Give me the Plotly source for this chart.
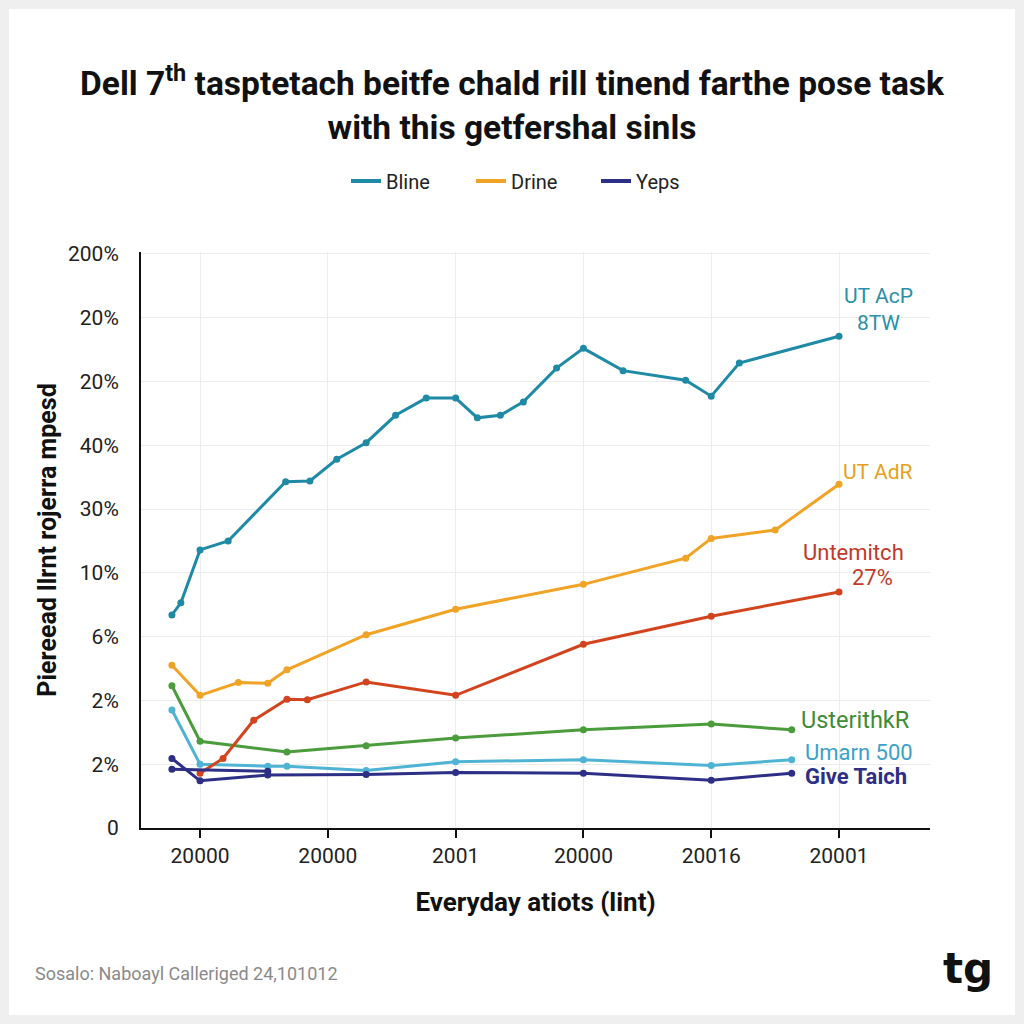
import plotly.graph_objects as go

# ---- data (axis units: x = tick index, y = gridline index) ----
x_tick_labels = ["20000", "20000", "2001", "20000", "20016", "20001"]
y_tick_labels = ["0", "2%", "2%", "6%", "10%", "30%", "40%", "20%", "20%", "200%"]

bline_x = [-0.22, -0.15, 0.0, 0.22, 0.67, 0.86, 1.07, 1.30, 1.53, 1.77, 2.0, 2.17, 2.35, 2.53, 2.79, 3.0, 3.31, 3.80, 4.0, 4.22, 5.0]
bline_y = [3.34, 3.53, 4.36, 4.50, 5.43, 5.44, 5.78, 6.04, 6.47, 6.74, 6.74, 6.43, 6.47, 6.68, 7.21, 7.52, 7.17, 7.02, 6.77, 7.29, 7.71]

drine_x = [-0.22, 0.0, 0.30, 0.53, 0.68, 1.30, 2.0, 3.0, 3.80, 4.0, 4.50, 5.0]
drine_y = [2.55, 2.08, 2.28, 2.27, 2.48, 3.03, 3.43, 3.82, 4.23, 4.54, 4.67, 5.39]

untemitch_x = [0.0, 0.18, 0.42, 0.68, 0.84, 1.30, 2.0, 3.0, 4.0, 5.0]
untemitch_y = [0.86, 1.09, 1.69, 2.02, 2.01, 2.29, 2.08, 2.88, 3.32, 3.70]

usterith_x = [-0.22, 0.0, 0.68, 1.30, 2.0, 3.0, 4.0, 4.63]
usterith_y = [2.23, 1.36, 1.19, 1.29, 1.41, 1.54, 1.63, 1.54]

umarn_x = [-0.22, 0.0, 0.53, 0.68, 1.30, 2.0, 3.0, 4.0, 4.63]
umarn_y = [1.85, 1.00, 0.97, 0.97, 0.90, 1.04, 1.07, 0.98, 1.07]

yeps_x = [-0.22, 0.0, 0.53, 1.30, 2.0, 3.0, 4.0, 4.63]
yeps_y = [1.09, 0.74, 0.83, 0.84, 0.87, 0.86, 0.75, 0.86]

yeps2_x = [-0.22, 0.53]
yeps2_y = [0.92, 0.89]

C_BLUE = "#1f8aa6"
C_ORANGE = "#f0a324"
C_RED = "#d2441e"
C_GREEN = "#4b9c3c"
C_LBLUE = "#4fb3d4"
C_NAVY = "#2c2f85"

fig = go.Figure()

def add(x, y, color, name):
    fig.add_trace(go.Scatter(
        x=x, y=y, mode="lines+markers", name=name, showlegend=False,
        line=dict(color=color, width=3),
        marker=dict(color=color, size=7),
    ))

add(umarn_x, umarn_y, C_LBLUE, "Umarn 500")
add(usterith_x, usterith_y, C_GREEN, "UsterithkR")
add(untemitch_x, untemitch_y, C_RED, "Untemitch")
add(yeps2_x, yeps2_y, C_NAVY, "Yeps")
add(bline_x, bline_y, C_BLUE, "Bline")
add(drine_x, drine_y, C_ORANGE, "Drine")
add(yeps_x, yeps_y, C_NAVY, "Yeps")

# legend entries (line-only swatches, as in the reference)
for nm, col in [("Bline", C_BLUE), ("Drine", C_ORANGE), ("Yeps", C_NAVY)]:
    fig.add_trace(go.Scatter(x=[None], y=[None], mode="lines", name=nm,
                             line=dict(color=col, width=4), showlegend=True))

FONT = "Roboto, Arial, sans-serif"

annos = [
    dict(text="UT AcP<br>8TW", x=5.31, y=8.13, color="#2a8fa8", xanchor="center", size=21),
    dict(text="UT AdR", x=5.30, y=5.58, color="#e6a020", xanchor="center", size=21),
    dict(text="Untemitch", x=5.11, y=4.32, color="#c0392b", xanchor="center", size=22),
    dict(text="27%", x=5.26, y=3.93, color="#c0392b", xanchor="center", size=22),
    dict(text="UsterithkR", x=4.69, y=1.69, color="#3f8c36", xanchor="left", size=23.5),
    dict(text="Umarn 500", x=4.72, y=1.18, color="#3aa2c8", xanchor="left", size=22),
    dict(text="<b>Give Taich</b>", x=4.72, y=0.80, color="#2c2f85", xanchor="left", size=22),
]
for a in annos:
    fig.add_annotation(
        x=a["x"], y=a["y"], xref="x", yref="y", text=a["text"], showarrow=False,
        xanchor=a["xanchor"], yanchor="middle", align="center",
        font=dict(family=FONT, size=a["size"], color=a["color"]),
    )

# source and logo
fig.add_annotation(
    x=(33 - 141) / 789, y=(828 - 973) / 576, xref="paper", yref="paper",
    text="Sosalo: Naboayl Calleriged 24,101012", showarrow=False,
    xanchor="left", yanchor="middle", font=dict(family=FONT, size=18, color="#8a8a8a"),
)
fig.add_annotation(
    x=(968 - 141) / 789, y=(828 - 968) / 576, xref="paper", yref="paper",
    text="<b>tg</b>", showarrow=False, xanchor="center", yanchor="middle",
    font=dict(family="DejaVu Sans, sans-serif", size=42, color="#111111"),
)

# light frame
fig.add_shape(
    type="rect", xref="paper", yref="paper", layer="below",
    x0=(9 - 141) / 789, x1=(1015 - 141) / 789, y0=(828 - 1015) / 576, y1=(828 - 9) / 576,
    fillcolor="white", line=dict(width=0),
)

fig.update_layout(
    width=1024, height=1024,
    paper_bgcolor="#efefef", plot_bgcolor="white",
    margin=dict(l=141, r=94, t=252, b=196),
    title=dict(
        text="Dell 7<sup>th</sup> tasptetach beitfe chald rill tinend farthe pose task<br>with this getfershal sinls",
        x=0.5, xref="container", xanchor="center", y=(1024 - 95) / 1024, yanchor="middle",
        font=dict(family=FONT, size=33.5, color="#111111", weight="bold"),
    ),
    legend=dict(
        orientation="h", x=(346 - 141) / 789, xanchor="left",
        y=(828 - 181) / 576, yanchor="middle",
        font=dict(family=FONT, size=20, color="#222222"),
        bgcolor="rgba(0,0,0,0)", entrywidth=80, entrywidthmode="pixels",
        traceorder="normal",
    ),
    font=dict(family=FONT),
    xaxis=dict(
        range=[-0.462, 5.712], tickmode="array", tickvals=list(range(len(x_tick_labels))),
        ticktext=x_tick_labels, showgrid=True, gridcolor="#ececec", gridwidth=1,
        showline=True, linecolor="#111111", linewidth=2, ticks="outside", ticklen=8,
        tickcolor="#111111", tickwidth=2, zeroline=False,
        tickfont=dict(family=FONT, size=21, color="#222222"),
        title=dict(text="<b>Everyday atiots (lint)</b>", standoff=26,
                   font=dict(family=FONT, size=26, color="#111111")),
    ),
    yaxis=dict(
        range=[0, 9.03], tickmode="array", tickvals=list(range(len(y_tick_labels))),
        ticktext=y_tick_labels, showgrid=True, gridcolor="#ececec", gridwidth=1,
        showline=True, linecolor="#111111", linewidth=2, ticks="", zeroline=False,
        tickfont=dict(family=FONT, size=21, color="#222222"), ticklabelstandoff=16,
        title=dict(text="<b>Piereead llrnt rojerra mpesd</b>", standoff=4,
                   font=dict(family=FONT, size=25, color="#111111")),
    ),
)

fig.write_html(
    "out.html",
    config={"displayModeBar": False},
    post_script="document.body.style.margin='0';document.body.style.background='#efefef';",
)
